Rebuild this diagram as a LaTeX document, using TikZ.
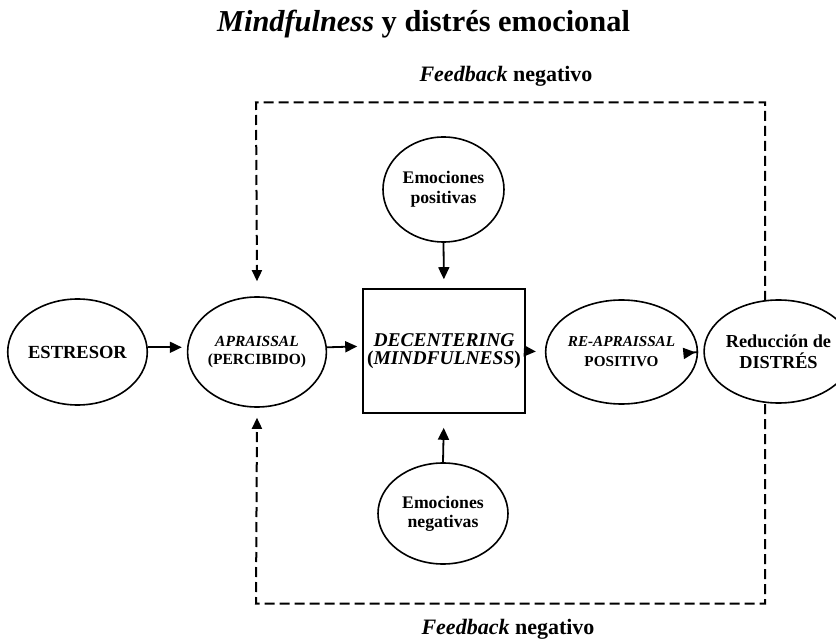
\documentclass[tikz,border=0pt]{standalone}
\usepackage{fontspec}
\setmainfont{Liberation Serif}
\usetikzlibrary{shapes.geometric,arrows.meta}
\begin{document}
\begin{tikzpicture}[x=1pt,y=-1pt,
  ell/.style={draw,ellipse,line width=1.6pt,inner sep=0pt,fill=white,align=center},
  arr/.style={-{Triangle[length=12pt,width=11pt]},line width=1.8pt},
  fb/.style={line width=2pt,dash pattern=on 10pt off 5pt},
  lab/.style={anchor=base,inner sep=0pt,font=\fontsize{22}{24}\selectfont\bfseries}
]
\useasboundingbox (0,0) rectangle (836,639);

% title
\node[anchor=base,inner sep=0pt,font=\fontsize{30.4}{32}\selectfont\bfseries] (title) at (423.5,32) {\textit{Mindfulness} y distrés emocional};
\node[lab] (fbtop) at (506,82) {\textit{Feedback} negativo};
\node[lab] (fbbot) at (508,634) {\textit{Feedback} negativo};

% corners of feedback loop
\coordinate (tl) at (256,102.5);
\coordinate (tr) at (765,102.5);
\coordinate (bl) at (256,603.5);
\coordinate (br) at (765,603.5);

% nodes
\node[ell,minimum width=139pt,minimum height=106pt,font=\fontsize{18.5}{20}\selectfont\bfseries] (est) at (77.5,352) {ESTRESOR};
\node[ell,minimum width=138pt,minimum height=110pt,font=\fontsize{15.5}{18}\selectfont\bfseries] (apr) at (257,352) {\textit{APRAISSAL}\\(PERCIBIDO)};
\node[draw,rectangle,line width=1.6pt,minimum width=162pt,minimum height=124pt,inner sep=0pt,align=center,font=\fontsize{19.5}{18}\selectfont\bfseries] (dec) at (444,351) {\textit{DECENTERING}\\(\textit{MINDFULNESS})};
\node[ell,minimum width=121pt,minimum height=105pt,font=\fontsize{17.7}{20}\selectfont\bfseries] (pos) at (443.5,189.5) {Emociones\\positivas};
\node[ell,minimum width=130pt,minimum height=101pt,font=\fontsize{17.7}{19}\selectfont\bfseries] (neg) at (443,513.5) {Emociones\\negativas};
\node[ell,minimum width=111pt,minimum height=104pt,font=\fontsize{15.2}{20}\selectfont\bfseries] (rea) at (621.5,352) {\textit{RE-APRAISSAL}\\POSITIVO};

% feedback dashed loops, ending with arrow heads into APRAISSAL
\draw[fb,-{Triangle[length=11pt,width=10pt]}] (765,301) -- (tr) -- (tl) -- ([yshift=15pt]apr.north);
\draw[fb,-{Triangle[length=11pt,width=10pt]}] (765,404) -- (br) -- (bl) -- ([yshift=-10pt]apr.south);

\node[ell,minimum width=115pt,minimum height=103pt,font=\fontsize{18.3}{21}\selectfont\bfseries] (red) at (778.5,351.5) {Reducción de\\DISTRÉS};

% solid arrows
\draw[arr,shorten >=5pt] ([yshift=4.7pt]est.east) -- ([yshift=4.7pt]apr.west);
\draw[arr,shorten >=5pt] ([yshift=4.7pt]apr.east) -- ([yshift=4.7pt]dec.west);
\draw[arr,shorten >=9pt] (dec.east) -- (rea.west);
\draw[arr,shorten >=8pt] (rea.east) -- (red.west);
\draw[arr,shorten >=9pt] (pos.south) -- (dec.north);
\draw[arr,shorten >=14pt] (neg.north) -- (dec.south);
\end{tikzpicture}
\end{document}
